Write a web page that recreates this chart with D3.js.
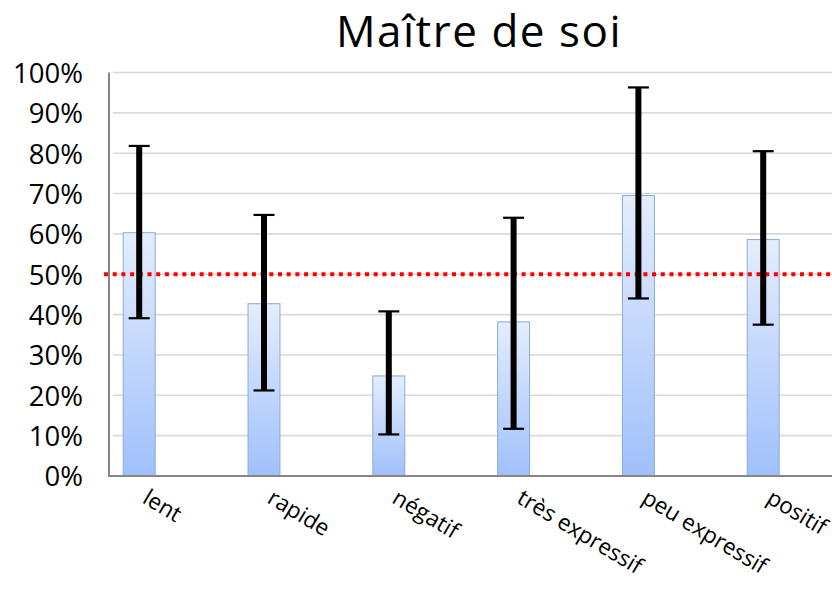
<!DOCTYPE html>
<html><head><meta charset="utf-8">
<script src="https://cdn.jsdelivr.net/npm/d3@7"></script>
<style>body{margin:0;background:#fff}svg{display:block}</style>
</head><body>
<svg id="c" width="832" height="592"></svg>
<script>
const categories = ["lent","rapide","négatif","très expressif","peu expressif","positif"];
const values = [0.603, 0.427, 0.248, 0.382, 0.695, 0.586];
const errLow = [0.391, 0.212, 0.103, 0.117, 0.440, 0.375];
const errHigh = [0.818, 0.647, 0.408, 0.640, 0.963, 0.805];
const yTicks = [0,0.1,0.2,0.3,0.4,0.5,0.6,0.7,0.8,0.9,1.0];
const refLine = 0.5;
const title = "Maître de soi";

const svg = d3.select("#c");
const font = "'Open Sans', sans-serif";
const y = d3.scaleLinear().domain([0,1]).range([476,72.5]);
const x = d3.scaleBand().domain(categories).range([76.8,825.6]).paddingInner(0.744).paddingOuter(0.372);
const plotL = 109, plotR = 832;

const defs = svg.append("defs");
const g = defs.append("linearGradient").attr("id","bg").attr("x1",0).attr("y1",0).attr("x2",0).attr("y2",1);
g.append("stop").attr("offset","0%").attr("stop-color","#e4edfd");
g.append("stop").attr("offset","100%").attr("stop-color","#a0c0fb");

// gridlines
svg.append("g").selectAll("line").data(yTicks.slice(1)).join("line")
  .attr("x1",plotL+4).attr("x2",plotR).attr("y1",d=>y(d)).attr("y2",d=>y(d))
  .attr("stroke","#d9d9d9").attr("stroke-width",1.6);

// y axis labels
const yAxis = d3.axisLeft(y).tickValues(yTicks).tickFormat(d3.format(".0%")).tickSize(0).tickPadding(0);
const ya = svg.append("g").attr("transform","translate(83,0)").call(yAxis);
ya.select(".domain").remove();
ya.selectAll("text").attr("font-family",font).attr("font-size",27.5).attr("fill","#000").attr("dy","0.36em");

// bars
svg.append("g").selectAll("rect").data(categories).join("rect")
  .attr("x",d=>x(d)).attr("width",x.bandwidth())
  .attr("y",(d,i)=>y(values[i])).attr("height",(d,i)=>y(0)-y(values[i]))
  .attr("fill","url(#bg)").attr("stroke","#8aaad8").attr("stroke-width",1);

// axis lines
svg.append("line").attr("x1",plotL).attr("x2",plotL).attr("y1",y(1)).attr("y2",y(0)+1)
  .attr("stroke","#868686").attr("stroke-width",2);
svg.append("line").attr("x1",plotL).attr("x2",plotR).attr("y1",y(0)).attr("y2",y(0))
  .attr("stroke","#868686").attr("stroke-width",2);

// reference line
svg.append("line").attr("x1",104).attr("x2",plotR).attr("y1",y(refLine)).attr("y2",y(refLine))
  .attr("stroke","#ff0000").attr("stroke-width",4).attr("stroke-dasharray","4,4.7");

// error bars
const eb = svg.append("g");
categories.forEach((c,i)=>{
  const cx = x(c)+x.bandwidth()/2;
  eb.append("line").attr("x1",cx).attr("x2",cx).attr("y1",y(errHigh[i])).attr("y2",y(errLow[i]))
    .attr("stroke","#000").attr("stroke-width",6);
  [errHigh[i],errLow[i]].forEach(v=>{
    eb.append("line").attr("x1",cx-10.5).attr("x2",cx+10.5).attr("y1",y(v)).attr("y2",y(v))
      .attr("stroke","#000").attr("stroke-width",2.2);
  });
});

// category labels
svg.append("g").selectAll("text").data(categories).join("text")
  .attr("transform",d=>`translate(${x(d)+x.bandwidth()/2+2},${502}) rotate(31)`)
  .attr("font-family",font).attr("font-size",22.5).attr("fill","#000")
  .text(d=>d);

// title
svg.append("text").attr("x",479).attr("y",47).attr("text-anchor","middle")
  .attr("font-family",font).attr("font-size",44).attr("letter-spacing","1.5px").attr("fill","#000").text(title);
</script>
</body></html>
